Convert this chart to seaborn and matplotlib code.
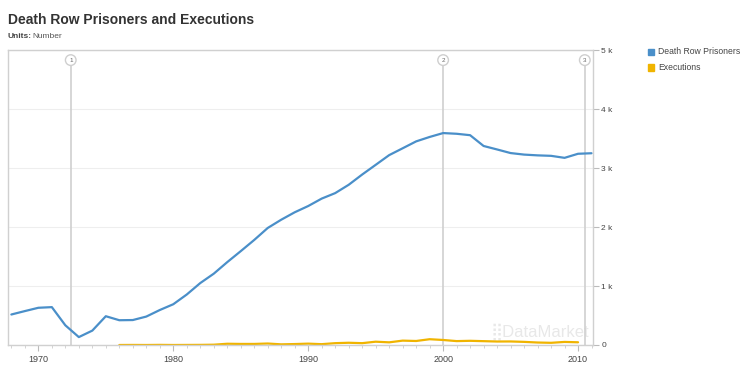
import pandas as pd
import matplotlib
matplotlib.use('Agg')
import matplotlib.pyplot as plt
import seaborn as sns
from matplotlib.ticker import FixedLocator, FuncFormatter

# Death row population, 1968-2011
prisoner_years = list(range(1968, 2012))
prisoners = [517, 575, 631, 642, 334, 134, 244, 488, 420, 423,
             482, 593, 691, 856, 1050, 1209, 1405, 1591, 1781, 1984,
             2124, 2250, 2356, 2482, 2575, 2716, 2890, 3054, 3219, 3335,
             3452, 3527, 3593, 3581, 3557, 3374, 3315, 3254, 3228, 3215,
             3207, 3173, 3242, 3251]

# Executions, 1976-2010
execution_years = list(range(1976, 2011))
executions = [0, 1, 0, 2, 0, 1, 2, 5, 21, 18, 18, 25, 11, 16, 23, 14, 31, 38,
              31, 56, 45, 74, 68, 98, 85, 66, 71, 65, 59, 60, 53, 42, 37, 52, 46]

# numbered event markers
event_labels = ["1", "2", "3"]
event_years = [1972.4, 2000.0, 2010.5]

series_names = ["Death Row Prisoners", "Executions"]
series_colors = ["#4a8fc9", "#f0b400"]

df = pd.concat([
    pd.DataFrame({'year': prisoner_years, 'value': prisoners, 'series': series_names[0]}),
    pd.DataFrame({'year': execution_years, 'value': executions, 'series': series_names[1]}),
])

sns.set_style('white')
plt.rcParams['font.family'] = ['Liberation Sans', 'DejaVu Sans']

fig = plt.figure(figsize=(7.47, 3.65), dpi=100)
ax = fig.add_axes([0.0107, 0.0548, 0.783, 0.808])

# event lines behind data
for lab, yr in zip(event_labels, event_years):
    ax.axvline(yr, color='#cfcfcf', lw=1.2, zorder=1, ymax=0.955)
    ax.annotate(lab, xy=(yr, 4830), ha='center', va='center', fontsize=4.5, color='#666666',
                bbox=dict(boxstyle='circle,pad=0.45', fc='white', ec='#cfcfcf', lw=1.0), zorder=3)

sns.lineplot(data=df, x='year', y='value', hue='series', palette=series_colors,
             linewidth=1.6, ax=ax, legend=False, zorder=2)

ax.set_xlim(1967.75, 2011.1)
ax.set_ylim(0, 5000)
ax.set_xlabel('')
ax.set_ylabel('')

ax.yaxis.tick_right()
ax.set_yticks([0, 1000, 2000, 3000, 4000, 5000])
ax.yaxis.set_major_formatter(FuncFormatter(lambda v, p: '0' if v == 0 else f'{int(v/1000)} k'))
ax.tick_params(axis='y', which='major', length=4, width=0.8, color='#bbbbbb', labelsize=6,
               labelcolor='#444444', pad=2, right=True, direction='out')
ax.grid(axis='y', color='#eeeeee', lw=0.8)
ax.set_axisbelow(True)

ax.set_xticks([1970, 1980, 1990, 2000, 2010])
ax.xaxis.set_minor_locator(FixedLocator(list(range(1968, 2012))))
ax.tick_params(axis='x', which='major', length=4, width=0.8, color='#bbbbbb', labelsize=6.5,
               labelcolor='#444444', pad=3, bottom=True, direction='out')
ax.tick_params(axis='x', which='minor', length=2.5, width=0.6, color='#cccccc', bottom=True,
               direction='out')

for sp in ax.spines.values():
    sp.set_color('#d0d0d0')
    sp.set_linewidth(1.0)

# watermark
ax.text(2010.8, 230, '⣿DataMarket', ha='right', va='center', fontsize=12, color='#e8e8e8',
        zorder=0)

# title and units
fig.text(0.0107, 0.945, 'Death Row Prisoners and Executions', fontsize=10, fontweight='bold',
         color='#333333', va='center')
fig.text(0.0107, 0.900, 'Units:', fontsize=6, fontweight='bold', color='#444444', va='center')
fig.text(0.043, 0.900, 'Number', fontsize=6, color='#555555', va='center')

# legend
for i, (name, col) in enumerate(zip(series_names, series_colors)):
    y = 0.858 - i * 0.043
    fig.patches.append(plt.Rectangle((0.8675, y - 0.009), 0.0075, 0.018, color=col,
                                     transform=fig.transFigure, figure=fig))
    fig.text(0.881, y, name, fontsize=6.2, color='#444444', va='center')

fig.savefig('out.png', dpi=100)
